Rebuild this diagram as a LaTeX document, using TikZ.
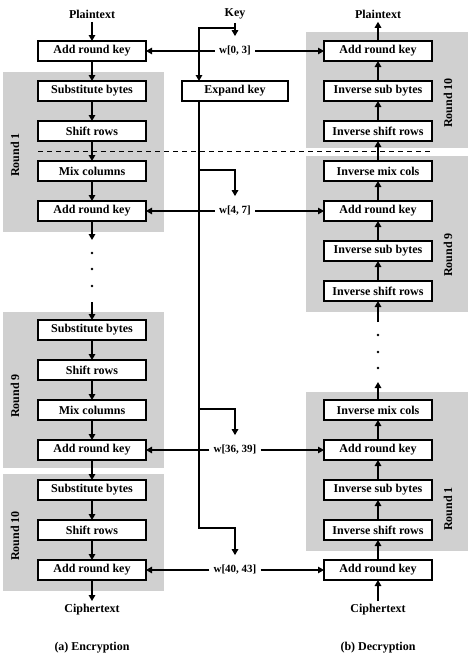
\documentclass[tikz,border=0pt]{standalone}
\usepackage{fontspec}
\setmainfont{Liberation Serif}
\usetikzlibrary{
	positioning,
	arrows.meta,
	calc
}
\definecolor{roundgray}{RGB}{208,208,208}

\begin{document}
\begin{tikzpicture}[
			x=1pt,y=1pt,
			node distance=20pt,
			every node/.style={font=\fontsize{12}{14}\selectfont\bfseries},
			block/.style={
				draw,
				line width=1.4pt,
				fill=white,
				minimum width=108pt,
				minimum height=20pt,
				inner sep=2pt,
				outer sep=0pt,
				align=center
			},
			keyblock/.style={block,minimum width=106pt},
			wlabel/.style={font=\fontsize{11}{13}\selectfont\bfseries,inner xsep=4pt,inner ysep=10pt},
			roundlabel/.style={rotate=90},
			roundbox/.style={fill=roundgray},
			arrow/.style={-{Triangle[length=6pt,width=6.5pt]},line width=1.4pt},
			keyarrow/.style={arrow,line width=1.1pt},
			divider/.style={dash pattern=on 5pt off 4pt,line width=0.8pt}
			]
			
			\useasboundingbox (0,0) rectangle (471,-665);
			
			\fill[roundbox] (3,-72) rectangle (164,-232);
			\fill[roundbox] (3,-312) rectangle (164,-468);
			\fill[roundbox] (3,-474) rectangle (164,-591);
			\fill[roundbox] (306,-32) rectangle (468,-148);
			\fill[roundbox] (306,-156) rectangle (468,-312);
			\fill[roundbox] (306,-392) rectangle (468,-551);
			
			\node (ptE) at (92,-14) {Plaintext};
			\node (ptD) at (378,-14) {Plaintext};
			\node (key) at (235,-14) {Key};
			
			\node[block] (ark0) at (92,-51) {Add round key};
			\node[block,below=of ark0] (sub1) {Substitute bytes};
			\node[block,below=of sub1] (shr1) {Shift rows};
			\node[block,below=of shr1] (mix1) {Mix columns};
			\node[block,below=of mix1] (ark1) {Add round key};
			
			\node[block,below=99pt of ark1] (sub9) {Substitute bytes};
			\node[block,below=of sub9] (shr9) {Shift rows};
			\node[block,below=of shr9] (mix9) {Mix columns};
			\node[block,below=of mix9] (ark9) {Add round key};
			
			\node[block,below=of ark9] (sub10) {Substitute bytes};
			\node[block,below=of sub10] (shr10) {Shift rows};
			\node[block,below=of shr10] (ark10) {Add round key};
			
			\node[block] (iark10) at (378,-51) {Add round key};
			\node[block,below=of iark10] (isb10) {Inverse sub bytes};
			\node[block,below=of isb10] (isr10) {Inverse shift rows};
			\node[block,below=of isr10] (imc9) {Inverse mix cols};
			\node[block,below=of imc9] (iark9) {Add round key};
			\node[block,below=of iark9] (isb9) {Inverse sub bytes};
			\node[block,below=of isb9] (isr9) {Inverse shift rows};
			
			\node[block,below=99pt of isr9] (imc1) {Inverse mix cols};
			\node[block,below=of imc1] (iark1) {Add round key};
			\node[block,below=of iark1] (isb1) {Inverse sub bytes};
			\node[block,below=of isb1] (isr1) {Inverse shift rows};
			\node[block,below=of isr1] (iark0) {Add round key};
			
			\node[keyblock] (expand) at (sub1 -| key) {Expand key};
			
			\node[wlabel] (w0) at (ark0 -| key) {w[0, 3]};
			\node[wlabel] (w4) at (ark1 -| key) {w[4, 7]};
			\node[wlabel] (w36) at (ark9 -| key) {w[36, 39]};
			\node[wlabel] (w40) at (ark10 -| key) {w[40, 43]};
			
			\node[roundlabel] (r1E) at (15,-155) {Round 1};
			\node[roundlabel] (r9E) at (15,-396) {Round 9};
			\node[roundlabel] (r10E) at (15,-536) {Round 10};
			\node[roundlabel] (r10D) at (448,-103) {Round 10};
			\node[roundlabel] (r9D) at (448,-255) {Round 9};
			\node[roundlabel] (r1D) at (448,-509) {Round 1};
			
			\node (ctE) at (92,-610) {Ciphertext};
			\node (ctD) at (378,-610) {Ciphertext};
			\node (capE) at (92,-648) {(a) Encryption};
			\node (capD) at (378,-648) {(b) Decryption};
			
			\coordinate (kj) at (235,-28);
			\coordinate (b4) at (199,-170);
			\coordinate (b36) at (199,-409);
			\coordinate (b40) at (199,-528);
			\coordinate (dtopE) at (92,-240);
			\coordinate (dbotE) at (92,-302);
			\coordinate (dtopD) at (378,-322);
			\coordinate (dbotD) at (378,-382);
			
			\foreach \y in {253,269,286} \fill (92,-\y) circle (1.3pt);
			\foreach \y in {335,352,368} \fill (378,-\y) circle (1.3pt);
			
			\draw[divider] ($(shr1.south west)+(0,-10)$) -- ($(isr10.south east)+(0,-10)$);
			
			\draw[arrow] (ptE)--(ark0);
			\draw[arrow] (ark0)--(sub1);
			\draw[arrow] (sub1)--(shr1);
			\draw[arrow] (shr1)--(mix1);
			\draw[arrow] (mix1)--(ark1);
			\draw[arrow] (ark1)--(dtopE);
			\draw[arrow] (dbotE)--(sub9);
			\draw[arrow] (sub9)--(shr9);
			\draw[arrow] (shr9)--(mix9);
			\draw[arrow] (mix9)--(ark9);
			\draw[arrow] (ark9)--(sub10);
			\draw[arrow] (sub10)--(shr10);
			\draw[arrow] (shr10)--(ark10);
			\draw[arrow] (ark10)--(ctE);
			
			\draw[arrow] (ctD)--(iark0);
			\draw[arrow] (iark0)--(isr1);
			\draw[arrow] (isr1)--(isb1);
			\draw[arrow] (isb1)--(iark1);
			\draw[arrow] (iark1)--(imc1);
			\draw[arrow] (imc1)--(dbotD);
			\draw[arrow] (dtopD)--(isr9);
			\draw[arrow] (isr9)--(isb9);
			\draw[arrow] (isb9)--(iark9);
			\draw[arrow] (iark9)--(imc9);
			\draw[arrow] (imc9)--(isr10);
			\draw[arrow] (isr10)--(isb10);
			\draw[arrow] (isb10)--(iark10);
			\draw[arrow] (iark10)--(ptD);
			
			\draw[arrow] (key)--(w0);
			\draw[arrow] (kj) -| (expand.north -| b4);
			\draw[arrow] (expand.south -| b4) -- (b40) -| (w40.north);
			\draw[arrow] (b4) -| (w4.north);
			\draw[arrow] (b36) -| (w36.north);
			
			\draw[keyarrow] (w0)--(ark0);
			\draw[keyarrow] (w0)--(iark10);
			\draw[keyarrow] (w4)--(ark1);
			\draw[keyarrow] (w4)--(iark9);
			\draw[keyarrow] (w36)--(ark9);
			\draw[keyarrow] (w36)--(iark1);
			\draw[keyarrow] (w40)--(ark10);
			\draw[keyarrow] (w40)--(iark0);
			
		\end{tikzpicture}
\end{document}
